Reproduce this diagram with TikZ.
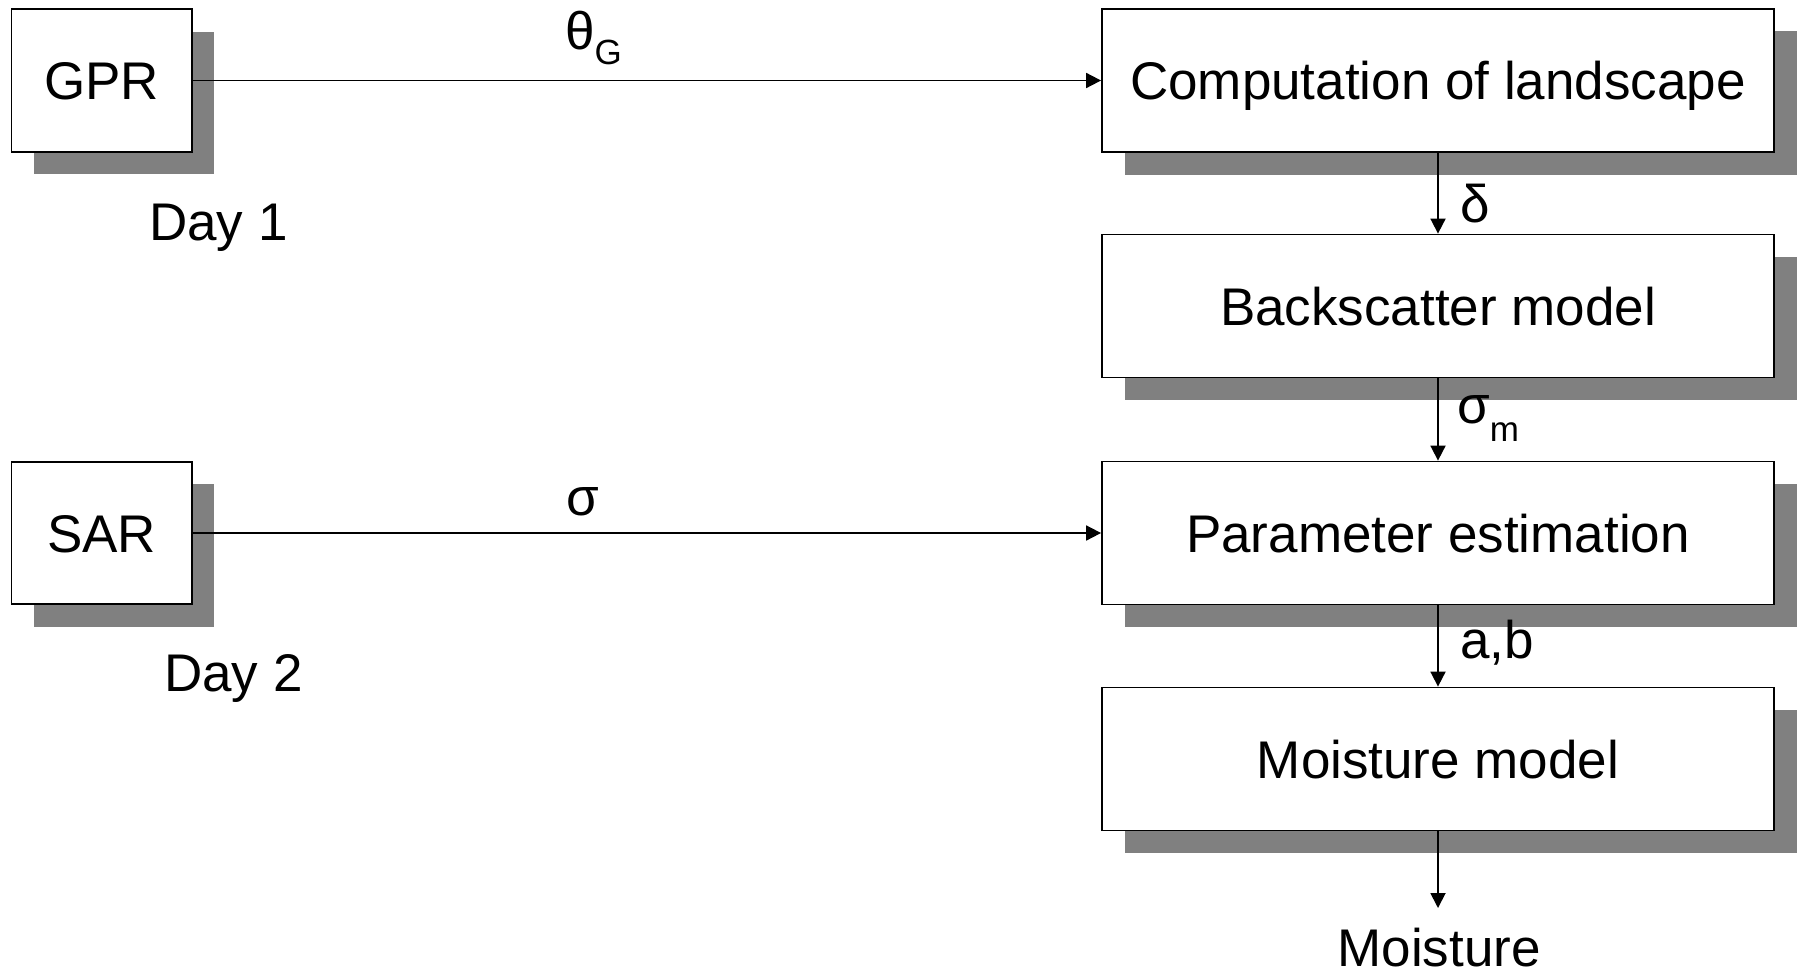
\documentclass[tikz,border=0pt]{standalone}
\usepackage{fontspec}
\setmainfont{Liberation Sans}
\usetikzlibrary{shadows,arrows.meta}
\definecolor{shadowgray}{RGB}{128,128,128}
\tikzset{
  boxbase/.style={draw, line width=1.8pt, fill=white, inner sep=0pt,
    font=\fontsize{53}{60}\selectfont, text height=38pt, text depth=0pt,
    general shadow={fill=shadowgray, shadow xshift=22.5pt, shadow yshift=-22.5pt}},
  smallbox/.style={boxbase, minimum width=180.5pt, minimum height=142.5pt},
  bigbox/.style={boxbase, minimum width=672pt, minimum height=143pt},
  lbl/.style={inner sep=0pt, anchor=base west, font=\fontsize{53}{60}\selectfont},
  arr/.style={line width=1.8pt, -{Triangle[width=15pt,length=15pt]}},
}
\newcommand{\subtxt}[2]{\raisebox{-#1}{\fontsize{35}{35}\selectfont #2}}
\begin{document}
\begin{tikzpicture}[x=1pt,y=-1pt]
\useasboundingbox (0,0) rectangle (1802,974);
\fill[white] (0,0) rectangle (1802,974);
% boxes
\node[smallbox] (gpr) at (101.7,80.5) {GPR};
\node[smallbox] (sar) at (101.7,533) {SAR};
\node[bigbox] (comp) at (1438,80.5) {Computation of landscape};
\node[bigbox] (back) at (1438,306) {Backscatter model};
\node[bigbox] (param) at (1438,533) {Parameter estimation};
\node[bigbox] (moist) at (1438,759) {Moisture model};
% free labels
\node[lbl] (day1) at (149,240) {Day 1};
\node[lbl] (day2) at (164,691) {Day 2};
\node[inner sep=0pt, anchor=base, font=\fontsize{53}{60}\selectfont] (out) at (1439,966) {Moisture};
\coordinate (outend) at (1438,908);
% connectors
\draw[arr] (gpr.east) -- (comp.west);
\draw[arr] (sar.east) -- (param.west);
\draw[arr] (comp.south) -- (back.north);
\draw[arr] (back.south) -- (param.north);
\draw[arr] (param.south) -- (moist.north);
\draw[arr] (moist.south) -- (outend);
% connector labels
\node[lbl] (thetag) at (565,49) {θ\subtxt{16pt}{G}};
\node[lbl] (sig) at (566,515) {σ};
\node[lbl] (delta) at (1460,222) {δ};
\node[lbl] (sigm) at (1457,423) {σ\subtxt{18pt}{m}};
\node[lbl] (ab) at (1460,658) {a,b};
\end{tikzpicture}
\end{document}
